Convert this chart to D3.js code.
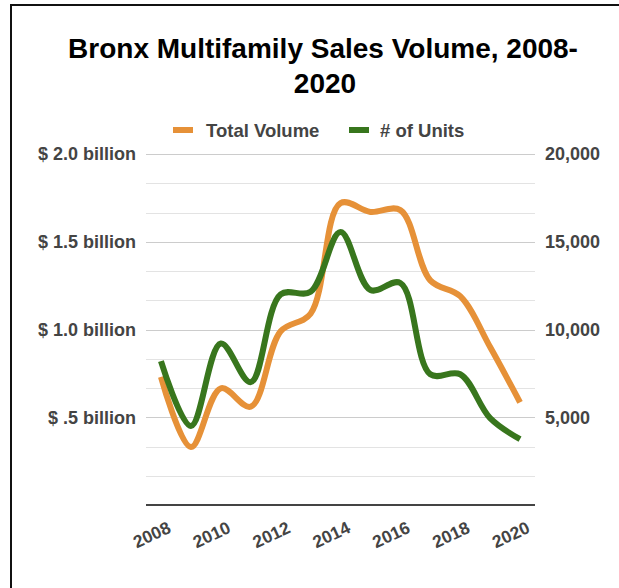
<!DOCTYPE html>
<html>
<head>
<meta charset="utf-8">
<script src="https://cdn.jsdelivr.net/npm/d3@7"></script>
<style>
  html, body { margin: 0; padding: 0; background: #fff; }
  svg { display: block; font-family: "Liberation Sans", Arial, sans-serif; }
</style>
</head>
<body>
<svg id="chart" width="619" height="588"></svg>
<script>
const years = [2008, 2009, 2010, 2011, 2012, 2013, 2014, 2015, 2016, 2017, 2018, 2019, 2020];
const totalVolume = [0.73, 0.33, 0.665, 0.56, 0.99, 1.09, 1.72, 1.67, 1.68, 1.28, 1.19, 0.90, 0.585];
const units = [8200, 4500, 9200, 7000, 12000, 12150, 15550, 12250, 12650, 7450, 7450, 4950, 3750];
const xTickLabels = ["2008", "2010", "2012", "2014", "2016", "2018", "2020"];
const leftTicks = [0.5, 1.0, 1.5, 2.0];
const leftTickLabels = ["$ .5 billion", "$ 1.0 billion", "$ 1.5 billion", "$ 2.0 billion"];
const rightTicks = [5000, 10000, 15000, 20000];
const seriesNames = ["Total Volume", "# of Units"];
const colors = ["#e69138", "#38761d"];

const svg = d3.select("#chart");
const W = 619, H = 588;
const plot = { left: 146, right: 535, top: 154, bottom: 505 };
const FONT = "\"Liberation Sans\", Arial, sans-serif";

// Frame (top and left edges)
svg.append("line").attr("x1", 10).attr("x2", W).attr("y1", 5).attr("y2", 5)
  .attr("stroke", "#111").attr("stroke-width", 2);
svg.append("line").attr("x1", 11).attr("x2", 11).attr("y1", 4).attr("y2", H)
  .attr("stroke", "#111").attr("stroke-width", 2);

// Title
const title = svg.append("text").attr("text-anchor", "middle")
  .attr("font-size", 28).attr("font-weight", "bold").attr("fill", "#000");
title.append("tspan").attr("x", 323).attr("y", 58).text("Bronx Multifamily Sales Volume, 2008-");
title.append("tspan").attr("x", 325).attr("y", 93).text("2020");

// Scales
const x = d3.scaleBand().domain(years).range([plot.left, plot.right]);
const xc = d => x(d) + x.bandwidth() / 2;
const yL = d3.scaleLinear().domain([0, 2.0]).range([plot.bottom, plot.top]);
const yR = d3.scaleLinear().domain([0, 20000]).range([plot.bottom, plot.top]);

// Gridlines (major + 2 minor between)
const gridVals = d3.range(1, 13).map(i => i * 2.0 / 12);
svg.append("g").selectAll("line").data(gridVals).join("line")
  .attr("x1", plot.left).attr("x2", plot.right)
  .attr("y1", d => Math.round(yL(d)) + 0.5).attr("y2", d => Math.round(yL(d)) + 0.5)
  .attr("stroke", d => (Math.abs((d * 2) - Math.round(d * 2)) < 1e-6) ? "#cccccc" : "#e3e3e3")
  .attr("stroke-width", 1);

// Baseline
svg.append("line").attr("x1", plot.left).attr("x2", plot.right)
  .attr("y1", plot.bottom).attr("y2", plot.bottom)
  .attr("stroke", "#444").attr("stroke-width", 2);

// Left axis
const leftAxis = d3.axisLeft(yL).tickValues(leftTicks)
  .tickFormat((d, i) => leftTickLabels[i]).tickSize(0).tickPadding(10);
const gL = svg.append("g").attr("transform", `translate(${plot.left},0)`).call(leftAxis);
gL.select(".domain").remove();
gL.selectAll("text").attr("font-size", 18).attr("font-weight", "bold").attr("fill", "#444")
  .attr("font-family", FONT);

// Right axis
const rightAxis = d3.axisRight(yR).tickValues(rightTicks)
  .tickFormat(d3.format(",")).tickSize(0).tickPadding(10);
const gR = svg.append("g").attr("transform", `translate(${plot.right},0)`).call(rightAxis);
gR.select(".domain").remove();
gR.selectAll("text").attr("font-size", 18).attr("font-weight", "bold").attr("fill", "#444")
  .attr("font-family", FONT);

// Bottom axis
const bottomAxis = d3.axisBottom(x).tickValues(xTickLabels.map(Number))
  .tickFormat(d => String(d)).tickSize(0).tickPadding(0);
const gB = svg.append("g").attr("transform", `translate(0,${plot.bottom})`).call(bottomAxis);
gB.select(".domain").remove();
gB.selectAll("text")
  .attr("font-size", 17.5).attr("font-weight", "bold").attr("fill", "#444")
  .attr("font-family", FONT)
  .attr("text-anchor", "end").attr("dy", null).attr("y", 0)
  .attr("transform", "translate(11,27) rotate(-25)");

// Lines
const lineL = d3.line().x((d, i) => xc(years[i])).y(d => yL(d)).curve(d3.curveCatmullRom.alpha(0.5));
const lineR = d3.line().x((d, i) => xc(years[i])).y(d => yR(d)).curve(d3.curveCatmullRom.alpha(0.5));
svg.append("path").attr("d", lineL(totalVolume)).attr("fill", "none")
  .attr("stroke", colors[0]).attr("stroke-width", 6).attr("stroke-linejoin", "round");
svg.append("path").attr("d", lineR(units)).attr("fill", "none")
  .attr("stroke", colors[1]).attr("stroke-width", 6).attr("stroke-linejoin", "round");

// Legend
const legendItems = [
  { name: seriesNames[0], color: colors[0], sx: 173, tx: 206 },
  { name: seriesNames[1], color: colors[1], sx: 349, tx: 380 }
];
const lg = svg.append("g");
legendItems.forEach(it => {
  lg.append("rect").attr("x", it.sx).attr("y", 127).attr("width", 20).attr("height", 6).attr("fill", it.color);
  lg.append("text").attr("x", it.tx).attr("y", 137).attr("font-size", 18.5).attr("font-weight", "bold")
    .attr("fill", "#444").text(it.name);
});
</script>
</body>
</html>
